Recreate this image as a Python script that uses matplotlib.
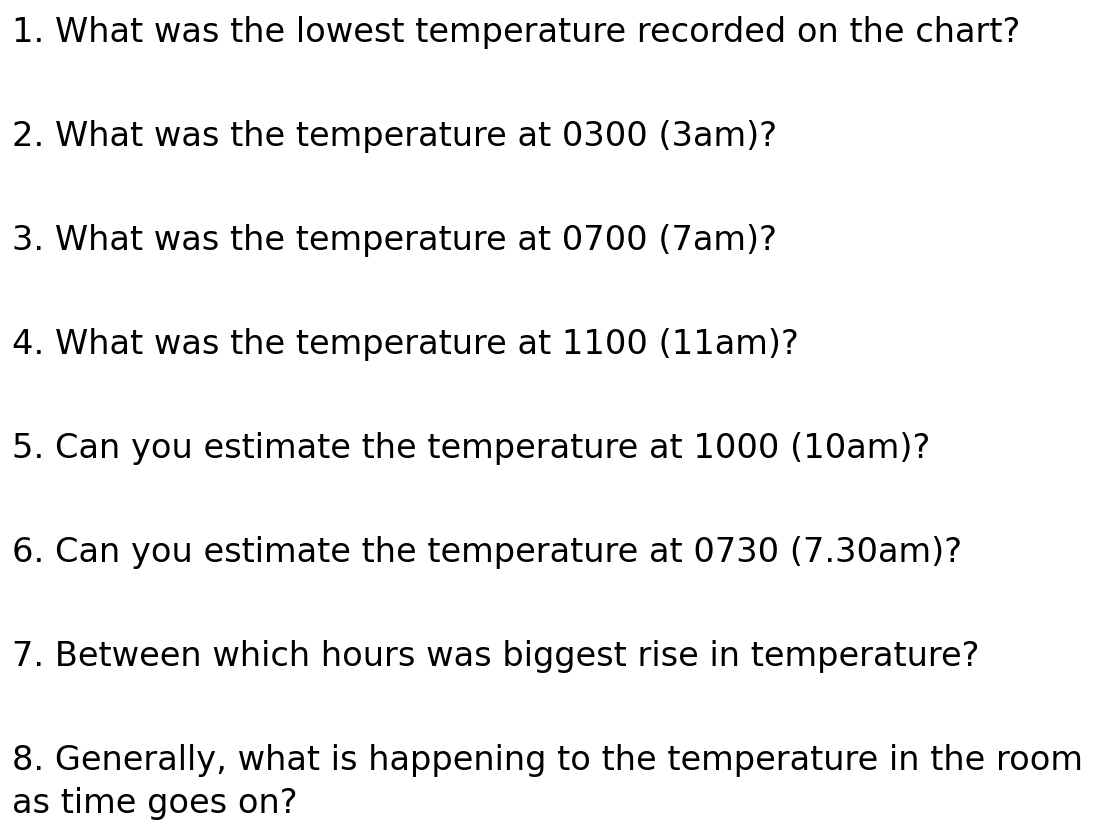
import matplotlib
matplotlib.use("Agg")
import matplotlib.pyplot as plt

questions = [
    "1. What was the lowest temperature recorded on the chart?",
    "2. What was the temperature at 0300 (3am)?",
    "3. What was the temperature at 0700 (7am)?",
    "4. What was the temperature at 1100 (11am)?",
    "5. Can you estimate the temperature at 1000 (10am)?",
    "6. Can you estimate the temperature at 0730 (7.30am)?",
    "7. Between which hours was biggest rise in temperature?",
    "8. Generally, what is happening to the temperature in the room",
]
continuation = "as time goes on?"

W, H = 1110, 832
fig = plt.figure(figsize=(W / 100, H / 100), dpi=100)
fig.patch.set_facecolor("white")

x0 = 12
first_baseline = 42
spacing = 104
fs = 24.2
for i, q in enumerate(questions):
    y = first_baseline + i * spacing
    fig.text(x0 / W, 1 - y / H, q, fontsize=fs, family="DejaVu Sans",
             color="black", va="baseline", ha="left")
fig.text(x0 / W, 1 - 813 / H, continuation, fontsize=fs, family="DejaVu Sans",
         color="black", va="baseline", ha="left")

fig.savefig("out.png", dpi=100, facecolor="white")
